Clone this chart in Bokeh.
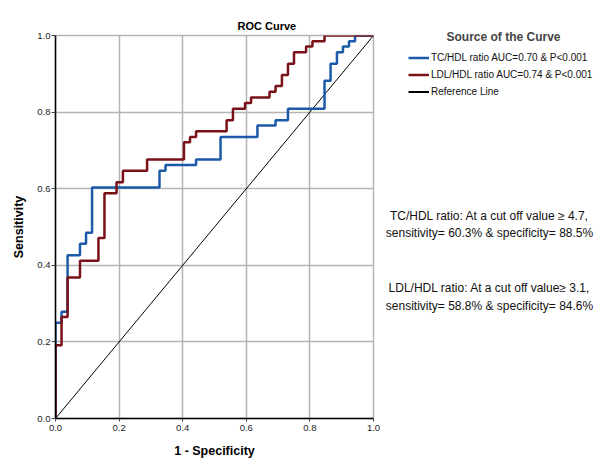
from bokeh.plotting import figure
from bokeh.models import Range1d, Label, Legend, LegendItem, FixedTicker, PrintfTickFormatter, Title
from bokeh.layouts import row
from bokeh.embed import file_html
from bokeh.resources import INLINE

# ---- data ----
tc_fpr = [0.0, 0.0, 0.019, 0.038, 0.077, 0.096, 0.115, 0.327, 0.346, 0.442, 0.519,
          0.635, 0.692, 0.731, 0.846, 0.865, 0.885, 0.904, 0.923, 0.942, 1.0]
tc_tpr = [0.0, 0.250, 0.279, 0.426, 0.456, 0.485, 0.603, 0.647, 0.662, 0.676, 0.735,
          0.765, 0.779, 0.809, 0.882, 0.926, 0.956, 0.971, 0.985, 1.0, 1.0]

ldl_fpr = [0.0, 0.0, 0.019, 0.038, 0.077, 0.135, 0.154, 0.192, 0.212, 0.288, 0.404,
           0.423, 0.442, 0.538, 0.558, 0.596, 0.615, 0.673, 0.692, 0.712, 0.731,
           0.750, 0.788, 0.808, 0.846, 1.0]
ldl_tpr = [0.0, 0.191, 0.265, 0.368, 0.412, 0.471, 0.588, 0.617, 0.647, 0.676, 0.721,
           0.735, 0.750, 0.779, 0.809, 0.824, 0.838, 0.853, 0.868, 0.897, 0.926,
           0.956, 0.971, 0.985, 1.0, 1.0]

ref_x = [0.0, 1.0]
ref_y = [0.0, 1.0]

ticks = [0.0, 0.2, 0.4, 0.6, 0.8, 1.0]

series_names = ["TC/HDL ratio AUC=0.70 & P<0.001",
                "LDL/HDL ratio AUC=0.74 & P<0.001",
                "Reference Line"]
note_lines = ["TC/HDL ratio: At a cut off value \u2265 4.7,",
              "sensitivity= 60.3% & specificity= 88.5%",
              "LDL/HDL ratio: At a cut off value\u2265 3.1,",
              "sensitivity= 58.8% & specificity= 84.6%"]

FONT = "Liberation Sans"
BLUE = "#1c5aa8"
RED = "#7a1018"
GRID = "#b4b4b4"
LW = 2.5

# ---------------- main ROC plot ----------------
p = figure(width=380, height=463, output_backend="svg", toolbar_location=None,
           x_range=Range1d(0, 1), y_range=Range1d(0, 1),
           min_border_left=55, min_border_right=7, min_border_top=35,
           min_border_bottom=45)
p.background_fill_color = "white"
p.border_fill_color = "white"
p.outline_line_color = GRID
p.outline_line_width = 1.5

p.title = Title(text="ROC Curve", align="left", offset=182, standoff=8,
                text_font=FONT, text_font_size="11px", text_font_style="bold",
                text_color="black")

for ax in (p.xaxis[0], p.yaxis[0]):
    ax.ticker = FixedTicker(ticks=ticks)
    ax.formatter = PrintfTickFormatter(format="%.1f")
    ax.axis_line_color = "black"
    ax.axis_line_width = 1.5
    ax.major_tick_line_color = "#444444"
    ax.minor_tick_line_color = None
    ax.major_tick_in = 0
    ax.major_label_text_font = FONT
    ax.major_label_text_font_size = "9.5px"
    ax.major_label_text_color = "#222222"
    ax.axis_label_text_font = FONT
    ax.axis_label_text_font_size = "12.5px"
    ax.axis_label_text_font_style = "bold"
    ax.axis_label_text_color = "black"
p.xaxis[0].axis_label = "1 - Specificity"
p.yaxis[0].axis_label = "Sensitivity"
p.xaxis[0].major_tick_out = 3
p.xaxis[0].major_label_standoff = 3
p.xaxis[0].axis_label_standoff = 10
p.yaxis[0].major_tick_out = 4
p.yaxis[0].major_label_standoff = 1
p.yaxis[0].axis_label_standoff = 8

p.xgrid.ticker = FixedTicker(ticks=ticks)
p.ygrid.ticker = FixedTicker(ticks=ticks)
p.grid.grid_line_color = GRID
p.grid.grid_line_width = 1.5

p.line(ref_x, ref_y, line_color="black", line_width=1)
p.step(tc_fpr, tc_tpr, mode="after", line_color=BLUE, line_width=LW)
p.step(ldl_fpr, ldl_tpr, mode="after", line_color=RED, line_width=LW)

# ---------------- side panel: legend + notes ----------------
s = figure(width=217, height=463, output_backend="svg", toolbar_location=None,
           x_range=Range1d(380, 597), y_range=Range1d(463, 0),
           x_axis_type=None, y_axis_type=None, min_border=0)
s.outline_line_color = None
s.background_fill_color = "white"
s.border_fill_color = "white"
for fig in (p, s):
    try:
        fig.frame_align = False
    except Exception:
        pass

# legend proxies: same series, lying outside this panel's visible range
g_tc = s.step(tc_fpr, tc_tpr, mode="after", line_color=BLUE, line_width=LW)
g_ldl = s.step(ldl_fpr, ldl_tpr, mode="after", line_color=RED, line_width=LW)
g_ref = s.line(ref_x, ref_y, line_color="black", line_width=2)

legend = Legend(items=[LegendItem(label=series_names[0], renderers=[g_tc]),
                       LegendItem(label=series_names[1], renderers=[g_ldl]),
                       LegendItem(label=series_names[2], renderers=[g_ref])],
                location=(28, 363), margin=0, padding=0, spacing=0,
                label_height=17, glyph_height=17, glyph_width=21,
                label_standoff=2, label_text_font=FONT,
                label_text_font_size="10px", label_text_color="#111111",
                border_line_color=None, background_fill_alpha=0)
s.add_layout(legend)

s.add_layout(Label(x=503, y=36, text="Source of the Curve", text_font=FONT,
                   text_font_size="12px", text_font_style="bold",
                   text_align="center", text_baseline="middle"))

for txt, py in zip(note_lines, [215, 232, 287, 305]):
    s.add_layout(Label(x=489, y=py, text=txt, text_font=FONT,
                       text_font_size="12px", text_color="#111111",
                       text_align="center", text_baseline="middle"))

layout = row(p, s)
open("out.html", "w").write(file_html(layout, INLINE))
